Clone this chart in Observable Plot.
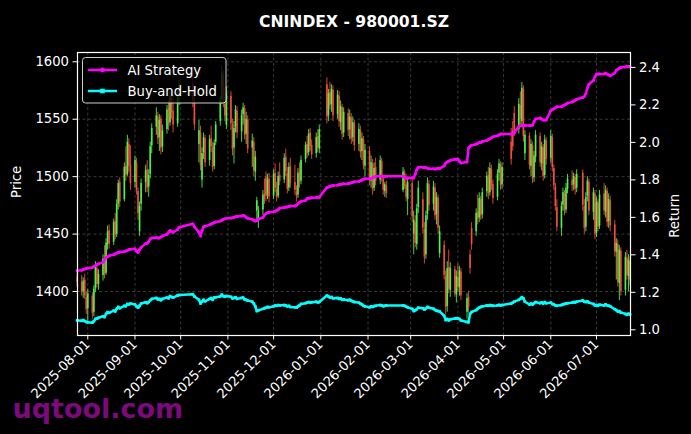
<!DOCTYPE html>
<html><head><meta charset="utf-8">
<script src="https://cdn.jsdelivr.net/npm/d3@7"></script>
<script src="https://cdn.jsdelivr.net/npm/@observablehq/plot@0.6"></script>
<style>html,body{margin:0;padding:0;background:#000;}</style>
</head><body><div id="chart"></div>
<script>
// ---- trading calendar (month + trading days) ----
const months = ["2025-07","2025-08","2025-09","2025-10","2025-11","2025-12","2026-01","2026-02","2026-03","2026-04","2026-05","2026-06","2026-07"];
const monthDays = [
  [25,28,29,30,31],
  [1,4,5,6,7,8,11,12,13,14,15,18,19,20,21,22,25,26,27,28,29],
  [1,2,3,4,5,8,9,10,11,12,15,16,17,18,19,22,23,24,25,26,29,30],
  [9,10,13,14,15,16,17,20,21,22,23,24,27,28,29,30,31],
  [3,4,5,6,7,10,11,12,13,14,17,18,19,20,21,24,25,26,27,28],
  [1,2,3,4,5,8,9,10,11,12,15,16,17,18,19,22,23,24,25,26,29,30,31],
  [5,6,7,8,9,12,13,14,15,16,19,20,21,22,23,26,27,28,29,30],
  [2,3,4,5,6,9,10,11,12,13,24,25,26,27],
  [2,3,4,5,6,9,10,11,12,13,16,17,18,19,20,23,24,25,26,27,30,31],
  [1,2,3,7,8,9,10,13,14,15,16,17,20,21,22,23,24,27,28,29,30],
  [6,7,8,11,12,13,14,15,18,19,20,21,22,25,26,27,28,29],
  [1,2,3,4,5,8,9,10,11,12,15,16,17,18,22,23,24,25,26,29,30],
  [1,2,3,6,7,8,9,10,13,14,15,16,17,20,21,22,23]
];

// ---- price (OHLC) ----
const openP = [
  1412,1408,1400,1410,1395,
  1385,1396,1382,1402,1420,1406,1414,1429,1416,1441,1453,1443,1461,1450,1476,1495,1480,1509,1502,1528,1510,
  1495,1512,1487,1452,1476,1495,1506,1491,1502,1527,1543,1552,1534,1550,1526,1541,1559,1547,1571,1557,1546,1572,
  1580,1565,1528,1538,1497,1521,1533,1514,1533,1525,1509,1530,1548,1567,1588,1563,1545,
  1570,1545,1525,1543,1557,1539,1554,1559,1537,1549,1525,1530,1504,1470,1462,1471,1485,1499,1484,1498,
  1483,1503,1489,1483,1501,1497,1517,1503,1490,1509,1495,1487,1484,1504,1496,1515,1528,1521,1538,1527,1520,1535,1524,
  1580,1553,1573,1563,1575,1554,1570,1547,1560,1538,1555,1541,1551,1534,1546,1528,1540,1522,1532,1509,
  1522,1496,1511,1490,1508,1497,1513,1498,1487,1492,1488,1503,1493,1480,
  1494,1450,1460,1441,1473,1480,1454,1432,1467,1493,1476,1490,1467,1481,1433,1440,1413,1387,1421,1401,1419,1397,
  1412,1403,1417,1382,1395,1432,1455,1452,1469,1464,1480,1467,1487,1501,1486,1506,1493,1482,1503,1510,1493,
  1530,1540,1555,1541,1562,1548,1576,1520,1535,1509,1527,1499,1517,1535,1511,1525,1501,1531,
  1516,1534,1507,1491,1473,1455,1475,1485,1471,1489,1497,1493,1499,1490,1503,1474,1456,1483,1495,1469,1485,
  1451,1477,1457,1485,1469,1487,1461,1479,1458,1434,1441,1407,1435,1401,1429,1413,1426
];
const highP = [
  1418,1414,1412,1415,1400,
  1402,1399,1405,1426,1423,1419,1432,1440,1446,1457,1458,1463,1468,1480,1497,1499,1512,1526,1536,1533,1527,
  1518,1516,1490,1478,1498,1510,1514,1506,1530,1546,1560,1556,1554,1553,1545,1562,1566,1574,1576,1572,1575,1584,
  1588,1570,1549,1544,1525,1538,1536,1536,1544,1530,1532,1548,1570,1596,1592,1578,1578,
  1574,1550,1548,1562,1561,1558,1564,1562,1556,1553,1537,1534,1522,1482,1474,1488,1498,1504,1502,1503,
  1506,1511,1495,1504,1512,1520,1524,1508,1512,1516,1510,1492,1507,1512,1518,1530,1535,1541,1542,1532,1538,1541,1545,
  1586,1576,1582,1580,1579,1575,1574,1566,1563,1560,1559,1558,1555,1552,1549,1546,1544,1538,1535,1528,
  1526,1518,1515,1512,1516,1518,1516,1500,1495,1496,1508,1506,1502,1499,
  1498,1470,1466,1476,1496,1486,1460,1470,1499,1497,1496,1494,1486,1484,1457,1444,1418,1426,1436,1425,1422,1418,
  1424,1422,1420,1398,1400,1436,1460,1472,1484,1486,1483,1490,1504,1508,1512,1510,1497,1506,1515,1513,1512,
  1542,1548,1561,1568,1574,1582,1579,1540,1538,1532,1530,1522,1540,1538,1530,1528,1536,1534,
  1540,1537,1510,1494,1480,1478,1490,1488,1494,1502,1505,1503,1502,1506,1506,1480,1486,1500,1498,1490,1488,
  1482,1480,1488,1494,1492,1490,1485,1483,1462,1446,1445,1440,1438,1434,1436,1432,1430
];
const lowP = [
  1404,1396,1394,1393,1380,
  1372,1376,1378,1399,1403,1401,1409,1411,1414,1436,1437,1440,1445,1447,1471,1473,1478,1496,1500,1504,1488,
  1490,1484,1462,1448,1470,1486,1486,1482,1498,1520,1536,1528,1522,1519,1521,1537,1540,1544,1550,1538,1543,1562,
  1560,1540,1512,1505,1490,1515,1508,1509,1521,1504,1506,1527,1544,1563,1560,1548,1541,
  1540,1518,1511,1538,1533,1530,1545,1532,1528,1520,1508,1500,1496,1462,1455,1466,1476,1478,1480,1477,
  1480,1486,1478,1481,1492,1494,1500,1485,1487,1490,1484,1478,1481,1490,1493,1512,1516,1518,1522,1515,1516,1521,1520,
  1546,1548,1558,1556,1548,1550,1543,1540,1532,1534,1535,1532,1528,1530,1522,1522,1516,1514,1506,1500,
  1492,1490,1484,1487,1492,1493,1495,1484,1482,1481,1486,1489,1478,1466,
  1460,1432,1438,1436,1468,1450,1424,1428,1462,1470,1470,1462,1458,1450,1429,1410,1380,1382,1398,1395,1395,1390,
  1400,1396,1392,1376,1381,1415,1436,1448,1458,1460,1462,1463,1482,1480,1483,1488,1476,1479,1496,1488,1489,
  1510,1522,1535,1537,1545,1544,1530,1514,1506,1500,1494,1495,1512,1508,1505,1496,1498,1510,
  1512,1504,1488,1470,1452,1448,1470,1466,1468,1485,1487,1488,1484,1486,1470,1450,1452,1478,1466,1462,1445,
  1447,1452,1454,1466,1464,1456,1455,1452,1430,1410,1404,1392,1396,1396,1410,1400,1405
];
const closeP = [
  1408,1399,1409,1396,1384,
  1398,1381,1402,1421,1406,1415,1428,1415,1442,1452,1441,1460,1449,1476,1494,1478,1508,1501,1530,1509,1494,
  1514,1488,1468,1474,1494,1505,1490,1501,1526,1542,1553,1533,1549,1525,1540,1558,1546,1570,1556,1545,1571,1578,
  1566,1545,1540,1510,1520,1534,1512,1532,1526,1508,1529,1545,1566,1590,1565,1553,1572,
  1546,1524,1542,1558,1538,1553,1560,1536,1550,1524,1531,1505,1517,1479,1470,1484,1480,1483,1497,1482,
  1502,1490,1482,1500,1496,1516,1504,1489,1508,1494,1488,1483,1503,1495,1514,1527,1520,1537,1526,1519,1534,1525,1541,
  1552,1572,1562,1576,1553,1571,1548,1561,1537,1556,1540,1552,1533,1547,1527,1541,1521,1533,1510,1523,
  1497,1512,1489,1507,1496,1514,1499,1488,1493,1485,1504,1492,1482,1495,
  1465,1462,1442,1472,1490,1455,1430,1466,1494,1475,1491,1466,1482,1455,1452,1414,1386,1420,1402,1420,1398,1413,
  1404,1418,1396,1394,1386,1420,1441,1468,1463,1481,1466,1486,1500,1485,1507,1492,1481,1502,1511,1492,1508,
  1515,1526,1540,1563,1550,1577,1535,1536,1510,1528,1498,1518,1536,1512,1526,1500,1532,1515,
  1535,1508,1492,1474,1456,1474,1486,1470,1490,1498,1492,1500,1489,1502,1475,1455,1482,1496,1470,1486,1450,
  1478,1456,1484,1470,1488,1460,1480,1457,1435,1442,1408,1436,1400,1430,1414,1427,1410
];

// ---- cumulative returns ----
const aiStrategy = [
  1.316,1.318,1.322,1.325,1.327,
  1.330,1.333,1.338,1.342,1.348,1.352,1.360,1.372,1.385,1.390,1.395,1.400,1.405,1.410,1.412,1.415,1.418,1.420,1.425,1.428,1.430,
  1.432,1.420,1.412,1.428,1.440,1.460,1.462,1.470,1.485,1.490,1.492,1.490,1.490,1.495,1.500,1.510,1.520,1.530,1.525,1.520,1.535,1.547,
  1.566,1.550,1.520,1.500,1.530,1.550,1.552,1.560,1.565,1.568,1.572,1.575,1.580,1.585,1.590,1.592,1.595,
  1.597,1.598,1.600,1.603,1.605,1.607,1.610,1.608,1.600,1.595,1.590,1.585,1.580,1.582,1.590,1.600,1.612,1.620,1.625,1.627,
  1.630,1.633,1.636,1.640,1.650,1.652,1.655,1.655,1.658,1.660,1.660,1.665,1.672,1.680,1.685,1.690,1.700,1.702,1.703,1.705,1.706,1.707,1.707,
  1.760,1.762,1.765,1.768,1.770,1.772,1.775,1.776,1.778,1.780,1.780,1.782,1.785,1.788,1.790,1.792,1.795,1.800,1.803,1.806,
  1.806,1.808,1.812,1.816,1.820,1.820,1.820,1.818,1.820,1.820,1.820,1.815,1.810,1.810,
  1.812,1.810,1.830,1.855,1.867,1.867,1.865,1.866,1.862,1.860,1.860,1.858,1.860,1.862,1.860,1.875,1.890,1.895,1.900,1.905,1.910,1.910,
  1.912,1.900,1.890,1.895,1.970,1.980,1.985,1.990,1.995,2.000,2.000,2.005,2.010,2.015,2.020,2.025,2.030,2.035,2.040,2.045,2.045,
  2.045,2.045,2.050,2.085,2.090,2.090,2.090,2.090,2.090,2.090,2.092,2.110,2.125,2.130,2.125,2.120,2.120,2.120,
  2.170,2.175,2.180,2.185,2.190,2.190,2.195,2.200,2.205,2.210,2.215,2.220,2.225,2.230,2.240,2.245,2.260,2.290,2.310,2.330,2.350,
  2.365,2.365,2.365,2.365,2.370,2.365,2.360,2.355,2.370,2.385,2.390,2.395,2.400,2.402,2.405,2.405,2.405
];
const buyAndHold = [
  1.050,1.048,1.052,1.046,1.042,
  1.040,1.038,1.046,1.058,1.060,1.064,1.072,1.068,1.085,1.094,1.090,1.102,1.098,1.112,1.122,1.115,1.128,1.126,1.138,1.135,1.140,
  1.135,1.125,1.118,1.128,1.140,1.147,1.142,1.148,1.158,1.165,1.170,1.162,1.165,1.158,1.165,1.172,1.168,1.180,1.175,1.172,1.183,1.186,
  1.190,1.178,1.160,1.140,1.150,1.160,1.152,1.165,1.170,1.160,1.172,1.174,1.178,1.188,1.180,1.176,1.180,
  1.176,1.168,1.170,1.174,1.165,1.170,1.172,1.162,1.160,1.156,1.150,1.140,1.125,1.100,1.104,1.112,1.115,1.118,1.122,1.120,
  1.125,1.130,1.128,1.132,1.130,1.132,1.130,1.125,1.128,1.122,1.120,1.118,1.125,1.130,1.138,1.142,1.145,1.148,1.146,1.147,1.150,1.146,1.148,
  1.183,1.178,1.172,1.175,1.168,1.170,1.165,1.168,1.160,1.162,1.158,1.160,1.155,1.152,1.148,1.145,1.140,1.135,1.128,1.125,
  1.120,1.125,1.122,1.126,1.128,1.132,1.130,1.126,1.128,1.130,1.130,1.128,1.124,1.120,
  1.112,1.100,1.104,1.110,1.118,1.115,1.108,1.114,1.122,1.118,1.112,1.106,1.102,1.100,1.098,1.075,1.052,1.058,1.050,1.056,1.060,1.062,
  1.060,1.058,1.050,1.042,1.040,1.085,1.095,1.105,1.112,1.118,1.122,1.125,1.130,1.128,1.132,1.130,1.128,1.130,1.133,1.130,1.132,
  1.140,1.145,1.150,1.160,1.165,1.174,1.168,1.150,1.135,1.140,1.135,1.142,1.148,1.142,1.146,1.140,1.148,1.142,
  1.145,1.138,1.135,1.130,1.128,1.132,1.136,1.138,1.140,1.142,1.145,1.148,1.146,1.150,1.156,1.150,1.148,1.152,1.145,1.138,1.130,
  1.132,1.128,1.134,1.130,1.136,1.130,1.128,1.126,1.110,1.105,1.098,1.100,1.092,1.085,1.080,1.086,1.082
];

// ---- axis ticks / labels ----
const dateTicks = ["2025-08-01","2025-09-01","2025-10-01","2025-11-01","2025-12-01","2026-01-01","2026-02-01","2026-03-01","2026-04-01","2026-05-01","2026-06-01","2026-07-01"];
const priceTicks = [1400,1450,1500,1550,1600];
const returnTicks = [1.0,1.2,1.4,1.6,1.8,2.0,2.2,2.4];
const titleText = "CNINDEX - 980001.SZ";
const seriesNames = ["AI Strategy","Buy-and-Hold"];

// ---- scales ----
const priceDomain = [1361.7, 1608.1];
const returnDomain = [0.9696, 2.4797];
const toP = r => priceDomain[0] + (r - returnDomain[0]) / (returnDomain[1] - returnDomain[0]) * (priceDomain[1] - priceDomain[0]);
const fromP = p => returnDomain[0] + (p - priceDomain[0]) / (priceDomain[1] - priceDomain[0]) * (returnDomain[1] - returnDomain[0]);

const dates = months.flatMap((m, i) => monthDays[i].map(d => new Date(`${m}-${String(d).padStart(2, "0")}T00:00:00Z`)));
const rows = dates.map((date, i) => ({
  date, open: openP[i], high: highP[i], low: lowP[i], close: closeP[i],
  ai: aiStrategy[i], bh: buyAndHold[i]
}));

const UP = "#4dff4d", DOWN = "#ff5040";
const MAG = "#ff00ff", CYAN = "#00ffff";
const font = "DejaVu Sans, sans-serif";
const FS = 13.2;
const tickDates = dateTicks.map(s => new Date(s + "T00:00:00Z"));

const chart = Plot.plot({
  width: 691, height: 434,
  marginLeft: 77, marginRight: 61, marginTop: 52, marginBottom: 99,
  style: {background: "#000", color: "#fff", fontFamily: font, fontSize: FS + "px", overflow: "visible"},
  x: {type: "utc", domain: [new Date("2025-07-25T06:00:00Z"), new Date("2026-07-23T08:00:00Z")]},
  y: {domain: priceDomain},
  marks: [
    Plot.gridX(tickDates, {stroke: "#9a9a9a", strokeOpacity: 0.45, strokeWidth: 0.8, strokeDasharray: "3,2.5"}),
    Plot.gridY(priceTicks, {stroke: "#9a9a9a", strokeOpacity: 0.45, strokeWidth: 0.8, strokeDasharray: "3,2.5"}),
    Plot.ruleX(rows, {x: "date", y1: "low", y2: "high", stroke: d => d.close >= d.open ? UP : DOWN, strokeWidth: 1, strokeOpacity: 0.85}),
    Plot.ruleX(rows, {x: "date", y1: "open", y2: "close", stroke: d => d.close >= d.open ? UP : DOWN, strokeWidth: 1.7, strokeOpacity: 0.85}),
    Plot.line(rows, {x: "date", y: d => toP(d.ai), stroke: MAG, strokeWidth: 2.5}),
    Plot.dot(rows, {x: "date", y: d => toP(d.ai), fill: MAG, r: 1.5, stroke: null}),
    Plot.line(rows, {x: "date", y: d => toP(d.bh), stroke: CYAN, strokeWidth: 2.5}),
    Plot.dot(rows, {x: "date", y: d => toP(d.bh), fill: CYAN, r: 1.5, symbol: "square", stroke: null}),
    Plot.frame({stroke: "#fff", strokeWidth: 1.2}),
    Plot.axisX(tickDates, {tickFormat: d3.utcFormat("%Y-%m-%d"), tickRotate: -45, tickSize: 4.5, tickPadding: 2, stroke: "#fff", fill: "#fff", label: null, fontSize: FS}),
    Plot.axisY(priceTicks, {anchor: "left", tickFormat: d => String(d), tickSize: 4.5, tickPadding: 4, stroke: "#fff", fill: "#fff", label: null, fontSize: FS}),
    Plot.axisY(returnTicks.map(toP), {anchor: "right", tickFormat: p => fromP(p).toFixed(1), tickSize: 4.5, tickPadding: 4, stroke: "#fff", fill: "#fff", label: null, fontSize: FS}),
    Plot.text(["Price"], {frameAnchor: "left", dx: -61, dy: 4, rotate: -90, fill: "#fff", fontSize: FS}),
    Plot.text(["Return"], {frameAnchor: "right", dx: 44, rotate: -90, fill: "#fff", fontSize: FS}),
    Plot.text([titleText], {frameAnchor: "top", dy: -37, fill: "#fff", fontSize: 15.6, fontWeight: "bold"}),
    Plot.text(["uqtool.com"], {frameAnchor: "bottom-left", dx: -65, dy: 82, textAnchor: "start", lineAnchor: "bottom", fill: "#8a0a8a", fillOpacity: 0.92, fontSize: 27, fontWeight: "bold"})
  ]
});
document.getElementById("chart").appendChild(chart);

// ---- legend (inside the axes, top-left) ----
const svg = d3.select(chart);
const lg = svg.append("g").attr("font-family", font).attr("font-size", FS).attr("text-anchor", "start");
lg.append("rect").attr("x", 82.5).attr("y", 57.5).attr("width", 143.5).attr("height", 45.5).attr("rx", 3)
  .attr("fill", "#000").attr("fill-opacity", 0.8).attr("stroke", "#cccccc").attr("stroke-width", 1);
const entries = [{name: seriesNames[0], color: MAG, sym: "circle", y: 70}, {name: seriesNames[1], color: CYAN, sym: "square", y: 91}];
for (const e of entries) {
  lg.append("line").attr("x1", 88).attr("x2", 117).attr("y1", e.y).attr("y2", e.y).attr("stroke", e.color).attr("stroke-width", 2.5);
  if (e.sym === "circle") lg.append("circle").attr("cx", 102.5).attr("cy", e.y).attr("r", 2.4).attr("fill", e.color);
  else lg.append("rect").attr("x", 100.2).attr("y", e.y - 2.3).attr("width", 4.6).attr("height", 4.6).attr("fill", e.color);
  lg.append("text").attr("x", 127.5).attr("y", e.y).attr("dy", "0.35em").attr("text-anchor", "start").attr("fill", "#fff").text(e.name);
}
</script>
</body></html>
